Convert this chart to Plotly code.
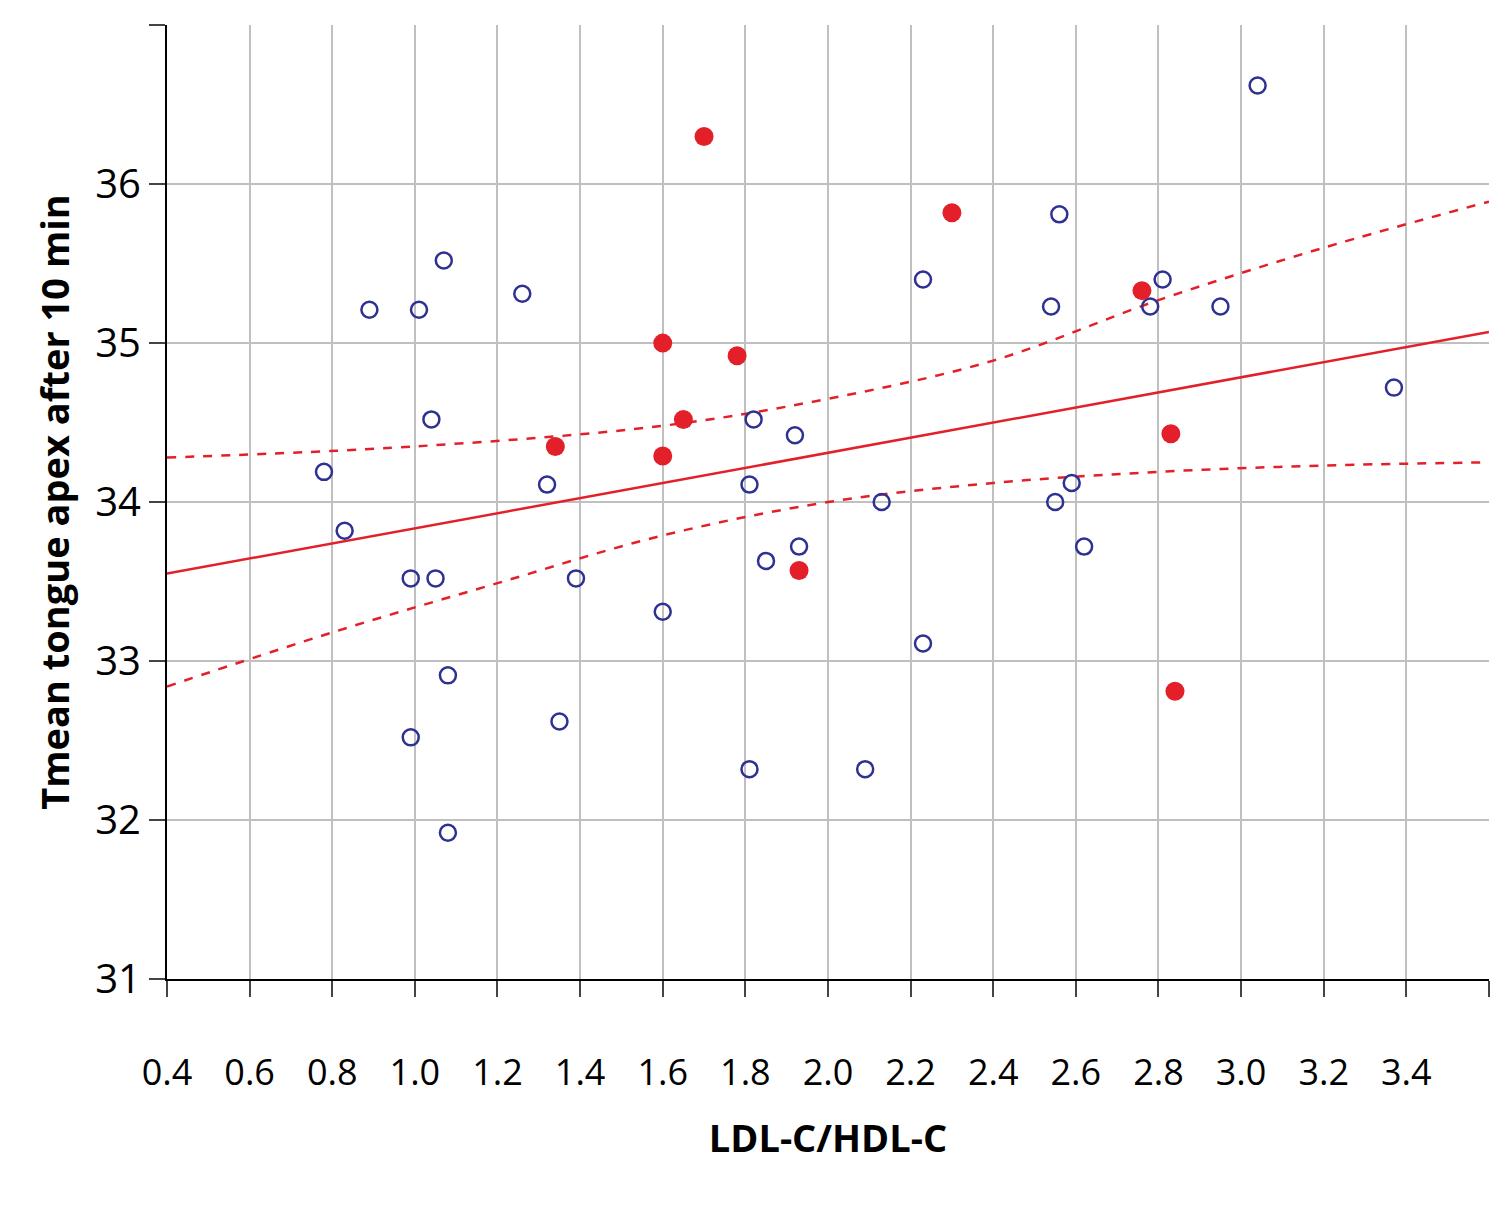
import plotly.graph_objects as go

diab_x = [0.78, 0.83, 0.89, 1.01, 1.07, 1.04, 1.26, 0.99, 1.05, 1.08, 0.99, 1.08,
          1.32, 1.39, 1.35, 1.60, 1.82, 1.92, 1.81, 1.85, 1.93, 1.81, 2.09, 2.13,
          2.23, 2.23, 2.56, 2.54, 2.55, 2.59, 2.62, 2.78, 2.81, 2.95, 3.04, 3.37]
diab_y = [34.19, 33.82, 35.21, 35.21, 35.52, 34.52, 35.31, 33.52, 33.52, 32.91, 32.52, 31.92,
          34.11, 33.52, 32.62, 33.31, 34.52, 34.42, 34.11, 33.63, 33.72, 32.32, 32.32, 34.0,
          35.40, 33.11, 35.81, 35.23, 34.0, 34.12, 33.72, 35.23, 35.40, 35.23, 36.62, 34.72]

ctrl_x = [1.70, 2.30, 1.60, 1.78, 1.65, 1.34, 1.60, 1.93, 2.76, 2.83, 2.84]
ctrl_y = [36.30, 35.82, 35.0, 34.92, 34.52, 34.35, 34.29, 33.57, 35.33, 34.43, 32.81]

fit_x = [0.4, 3.6]
fit_y = [33.55, 35.07]

upper_x = [0.4, 1.0, 1.6, 2.0, 2.4, 2.8, 3.2, 3.6]
upper_y = [34.28, 34.35, 34.48, 34.65, 34.89, 35.27, 35.6, 35.89]
lower_x = [0.4, 0.8, 1.2, 1.6, 2.0, 2.4, 2.8, 3.2, 3.6]
lower_y = [32.84, 33.18, 33.49, 33.79, 34.0, 34.12, 34.19, 34.23, 34.25]

x_ticks = [0.4, 0.6, 0.8, 1.0, 1.2, 1.4, 1.6, 1.8, 2.0, 2.2, 2.4, 2.6, 2.8, 3.0, 3.2, 3.4, 3.6]
y_ticks = [31, 32, 33, 34, 35, 36, 37]

red = '#e3202a'
blue = '#2e3192'

fig = go.Figure()
fig.add_trace(go.Scatter(x=fit_x, y=fit_y, mode='lines', line=dict(color=red, width=2.5),
                         showlegend=False, cliponaxis=False))
fig.add_trace(go.Scatter(x=upper_x, y=upper_y, mode='lines', line_shape='spline',
                         line=dict(color=red, width=2.5, dash='dash'), showlegend=False))
fig.add_trace(go.Scatter(x=lower_x, y=lower_y, mode='lines', line_shape='spline',
                         line=dict(color=red, width=2.5, dash='dash'), showlegend=False))
fig.add_trace(go.Scatter(x=diab_x, y=diab_y, mode='markers', name='Patient: Diabetes',
                         marker=dict(symbol='circle-open', size=16, color=blue,
                                     line=dict(width=2.5, color=blue))))
fig.add_trace(go.Scatter(x=ctrl_x, y=ctrl_y, mode='markers', name='Patient: Control',
                         marker=dict(symbol='circle', size=19, color=red)))

fig.update_layout(
    width=1500, height=1231,
    margin=dict(l=159, r=19, t=17, b=260, autoexpand=False),
    plot_bgcolor='white', paper_bgcolor='white',
    font=dict(family='Open Sans', size=36, color='black'),
    xaxis=dict(range=[0.4, 3.6001], tickmode='array', tickvals=x_ticks,
               ticktext=[f'{v:.1f}' for v in x_ticks], automargin=False,
               showgrid=True, gridcolor='#c0c0c0', gridwidth=2,
               showline=True, linecolor='black', linewidth=2, ticks='outside',
               ticklen=16, tickwidth=2, ticklabelstandoff=45, zeroline=False,
               title=dict(text='<b>LDL-C/HDL-C</b>', font=dict(size=38), standoff=30)),
    yaxis=dict(range=[31, 37.001], tickmode='array', tickvals=y_ticks, automargin=False,
               showgrid=True, gridcolor='#c0c0c0', gridwidth=2,
               showline=True, linecolor='black', linewidth=2, ticks='outside',
               ticklen=16, tickwidth=2, zeroline=False, tickfont=dict(size=40),
               title=dict(text='<b>Tmean tongue apex after 10 min</b>', font=dict(size=38),
                          standoff=14)),
    legend=dict(orientation='h', x=0.45, xanchor='center', y=-0.255, yanchor='top',
                font=dict(size=40), itemsizing='trace', entrywidth=520),
)

fig.write_html('out.html')
